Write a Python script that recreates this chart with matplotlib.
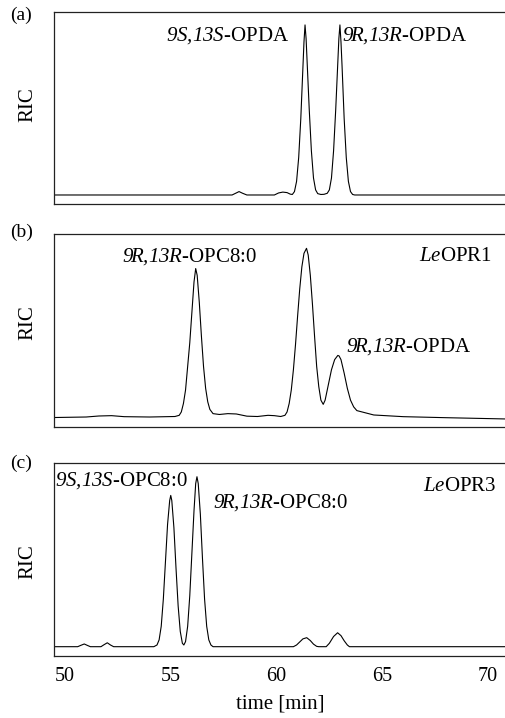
import numpy as np
import matplotlib
matplotlib.use("Agg")
import matplotlib.pyplot as plt

plt.rcParams['font.family'] = ['Liberation Serif', 'DejaVu Serif']
# math text is only used for the italic parts of the labels, digits included
plt.rcParams['mathtext.fontset'] = 'custom'
plt.rcParams['mathtext.rm'] = 'Liberation Serif:italic'
plt.rcParams['mathtext.it'] = 'Liberation Serif:italic'

# panel (a): racemic OPDA standard
t_a = [49.5, 57.9, 58.1, 58.23, 58.4, 58.6, 59.9, 60.1, 60.3, 60.5, 60.65, 60.75,
       60.85, 60.95, 61.05, 61.15, 61.25, 61.3, 61.35, 61.4, 61.45, 61.55, 61.65,
       61.75, 61.85, 61.95, 62.1, 62.25, 62.4, 62.5, 62.6, 62.7, 62.8, 62.9, 62.95,
       63.0, 63.05, 63.1, 63.2, 63.3, 63.4, 63.5, 63.6, 63.7, 71.0]
ric_a = [0, 0, 1.2, 2.0, 1.0, 0, 0, 1.2, 1.7, 1.4, 0.5, 0.3,
         2, 8, 22, 45, 75, 90, 100, 92, 78, 50, 26,
         10, 3, 0.8, 0.3, 0.4, 1.0, 3, 10, 26, 50, 78, 92,
         100, 90, 76, 45, 22, 8, 2, 0.3, 0, 0]

# panel (b): LeOPR1
t_b = [49.5, 51.0, 51.6, 52.2, 52.8, 54.0, 55.2, 55.4, 55.5, 55.6, 55.7, 55.8, 55.9,
       56.0, 56.1, 56.18, 56.25, 56.35, 56.45, 56.55, 56.65, 56.75, 56.85, 57.0, 57.3,
       57.7, 58.1, 58.6, 59.1, 59.6, 59.9, 60.2, 60.4, 60.5, 60.6, 60.7, 60.8, 60.9,
       61.0, 61.1, 61.2, 61.3, 61.42, 61.5, 61.6, 61.7, 61.8, 61.9, 62.0, 62.1, 62.21,
       62.3, 62.45, 62.6, 62.75, 62.9, 62.96, 63.05, 63.2, 63.35, 63.5, 63.65, 63.8,
       64.2, 64.6, 66.0, 68.0, 71.0]
ric_b = [-0.3, 0, 0.6, 0.8, 0.2, 0, 0.3, 1, 3, 8, 16, 30, 44,
         62, 80, 88, 84, 68, 48, 30, 17, 9, 4.5, 2, 1.5,
         2, 1.8, 0.5, 0.3, 1, 0.8, 0.3, 1, 3, 8, 16, 28, 43,
         60, 76, 89, 97, 100, 96, 84, 67, 48, 30, 18, 10, 7.5,
         10, 19, 28, 34, 36.5, 36.2, 34, 26, 17, 10, 6, 3.8,
         2.5, 1.2, 0.2, -0.4, -1.2]

# panel (c): LeOPR3
t_c = [49.5, 50.6, 50.75, 50.91, 51.05, 51.2, 51.7, 51.85, 52.0, 52.15, 52.3, 54.2,
       54.35, 54.45, 54.55, 54.65, 54.75, 54.85, 54.95, 55.0, 55.05, 55.15, 55.25,
       55.35, 55.45, 55.55, 55.62, 55.7, 55.8, 55.9, 56.0, 56.1, 56.18, 56.24, 56.3,
       56.4, 56.5, 56.6, 56.7, 56.8, 56.9, 57.0, 60.8, 60.95, 61.1, 61.25, 61.43,
       61.6, 61.75, 61.9, 62.0, 62.35, 62.5, 62.7, 62.89, 63.05, 63.2, 63.35, 63.45, 71.0]
ric_c = [0, 0, 0.8, 1.6, 0.8, 0, 0, 1.2, 2.3, 1, 0, 0,
         1, 4, 12, 28, 50, 72, 86, 89, 86, 70, 46,
         24, 9, 2, 1, 3, 12, 30, 55, 80, 96, 100, 96,
         78, 52, 28, 12, 4, 1, 0, 0, 1, 2.8, 4.6, 5.3,
         3.6, 1.5, 0.2, 0, 0, 2, 6, 8.2, 6.5, 3.5, 1, 0, 0]

xticks = [50, 55, 60, 65, 70]

W, H = 506, 718
fig = plt.figure(figsize=(W / 100, H / 100), dpi=100)

def px_axes(top, bottom, left=54, right=507):
    return fig.add_axes([left / W, 1 - bottom / H, (right - left) / W, (bottom - top) / H])

ax_a = px_axes(12, 204)
ax_b = px_axes(234.3, 427.3)
ax_c = px_axes(463.3, 655.7)

traces = [(ax_a, t_a, ric_a, (-5.3, 107.6)),
          (ax_b, t_b, ric_b, (-6.1, 108.3)),
          (ax_c, t_c, ric_c, (-5.3, 107.9))]
for ax, t, r, yl in traces:
    ax.plot(t, r, color='black', lw=0.8)
    ax.set_xlim(49.48, 70.9)
    ax.set_ylim(*yl)
    ax.set_yticks([])
    ax.set_xticks(xticks)
    ax.tick_params(axis='x', length=0, pad=8, labelsize=14.5)
    for s in ax.spines.values():
        s.set_linewidth(0.9)
        s.set_color('#222222')
ax_a.tick_params(labelbottom=False)
ax_b.tick_params(labelbottom=False)
ax_c.set_xlabel('time [min]', fontsize=15, labelpad=6)

fs = 15
# annotations
ax_a.text(60.6, 94, r'$9S{,}13S$-OPDA', ha='right', va='center', fontsize=fs)
ax_a.text(63.1, 94, r'$9R{,}13R$-OPDA', ha='left', va='center', fontsize=fs)
ax_b.text(52.7, 95, r'$9R{,}13R$-OPC8:0', ha='left', va='center', fontsize=fs)
ax_b.text(70.2, 95, r'$Le$OPR1', ha='right', va='center', fontsize=fs)
ax_b.text(63.3, 41.5, r'$9R{,}13R$-OPDA', ha='left', va='center', fontsize=fs)
ax_c.text(49.55, 98, r'$9S{,}13S$-OPC8:0', ha='left', va='center', fontsize=fs)
ax_c.text(57.0, 85, r'$9R{,}13R$-OPC8:0', ha='left', va='center', fontsize=fs)
ax_c.text(70.4, 94, r'$Le$OPR3', ha='right', va='center', fontsize=fs)

for lab, y in [('(a)', 15), ('(b)', 232), ('(c)', 463)]:
    fig.text(10 / W, 1 - y / H, lab, ha='left', va='center', fontsize=14)
for y in [105, 323, 562]:
    fig.text(28 / W, 1 - y / H, 'RIC', ha='center', va='center', rotation=90, fontsize=15)

fig.savefig('out.png', dpi=100)
